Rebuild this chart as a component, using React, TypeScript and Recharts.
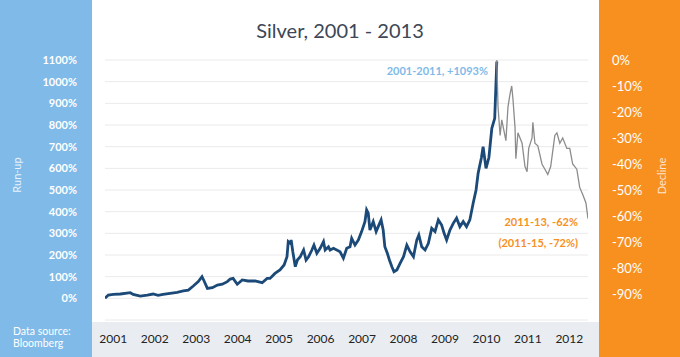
import React from "react"
import { LineChart, Line, XAxis, YAxis, CartesianGrid } from "recharts"

// x positions are in "label years": 2001 sits under the 2001 tick label
const yearTicks = [2001, 2002, 2003, 2004, 2005, 2006, 2007, 2008, 2009, 2010, 2011, 2012]
const runUpTicks = [0, 100, 200, 300, 400, 500, 600, 700, 800, 900, 1000, 1100]
const declineTicks = [-90, -80, -70, -60, -50, -40, -30, -20, -10, 0]

// blue series: run-up vs. the 2001 low, in %
const runUpT = [
  2000.8, 2000.88, 2001.0, 2001.17, 2001.41, 2001.48, 2001.65, 2001.82, 2001.96, 2002.08,
  2002.2, 2002.37, 2002.54, 2002.69, 2002.81, 2002.93, 2003.05, 2003.14, 2003.19, 2003.27,
  2003.39, 2003.51, 2003.63, 2003.75, 2003.82, 2003.89, 2003.99, 2004.11, 2004.25, 2004.42,
  2004.59, 2004.71, 2004.78, 2004.9, 2005.02, 2005.12, 2005.19, 2005.22, 2005.27, 2005.29,
  2005.33, 2005.39, 2005.44, 2005.51, 2005.55, 2005.59, 2005.65, 2005.71, 2005.79, 2005.84,
  2005.91, 2005.99, 2006.07, 2006.11, 2006.19, 2006.23, 2006.31, 2006.39, 2006.47, 2006.55,
  2006.63, 2006.71, 2006.75, 2006.83, 2006.91, 2006.99, 2007.07, 2007.11, 2007.15, 2007.19,
  2007.27, 2007.34, 2007.39, 2007.46, 2007.51, 2007.55, 2007.61, 2007.66, 2007.72, 2007.77,
  2007.84, 2007.92, 2008.0, 2008.08, 2008.16, 2008.24, 2008.32, 2008.37, 2008.44, 2008.52,
  2008.6, 2008.68, 2008.76, 2008.84, 2008.92, 2008.98, 2009.04, 2009.12, 2009.2, 2009.28,
  2009.36, 2009.44, 2009.52, 2009.6, 2009.68, 2009.75, 2009.8, 2009.88, 2009.92, 2009.99,
  2010.06, 2010.13, 2010.2, 2010.25,
]
const runUpPct = [
  0, 15, 18, 20, 26, 18, 10, 15, 20, 14,
  18, 23, 28, 34, 38, 57, 77, 100, 80, 46,
  49, 61, 65, 77, 89, 92, 65, 85, 80, 80,
  72, 92, 92, 115, 131, 154, 192, 262, 254, 269,
  215, 146, 177, 192, 208, 223, 177, 192, 223, 246,
  208, 231, 262, 223, 238, 223, 231, 223, 215, 185,
  231, 238, 277, 246, 269, 308, 354, 408, 393, 315,
  354, 308, 331, 362, 315, 238, 208, 177, 146, 123,
  131, 162, 192, 246, 215, 192, 269, 292, 238, 223,
  254, 323, 308, 362, 338, 300, 269, 315, 346, 370,
  331, 354, 331, 362, 439, 500, 577, 650, 700, 600,
  650, 785, 831, 1093,
]

// grey series: decline from the 2011 peak, in %
const declineT = [
  2010.25, 2010.28, 2010.33, 2010.37, 2010.42, 2010.47, 2010.52, 2010.57, 2010.61, 2010.64,
  2010.69, 2010.71, 2010.76, 2010.86, 2010.93, 2010.98, 2011.02, 2011.1, 2011.12, 2011.17,
  2011.24, 2011.34, 2011.41, 2011.48, 2011.55, 2011.65, 2011.7, 2011.77, 2011.84, 2011.94,
  2012.01, 2012.08, 2012.18, 2012.25, 2012.33, 2012.4, 2012.45,
]
const declinePct = [
  0, -18, -29, -23, -27, -31, -18, -13, -10, -15,
  -26, -38, -28, -32, -41, -43, -34, -30, -24, -32,
  -33, -40, -42, -44, -41, -29, -28, -32, -30, -34,
  -34, -40, -42, -49, -52, -55, -61,
]

const runUpData = runUpT.map((t, i) => ({ t, v: runUpPct[i] }))
const declineData = declineT.map((t, i) => ({ t, v: declinePct[i] }))

const FONT = "Lato, 'Open Sans', sans-serif"

export default function App() {
  return (
    <div style={{ position: "absolute", left: 0, top: 0, width: 680, height: 357, background: "#fff", fontFamily: FONT }}>
      <div style={{ position: "absolute", left: 0, top: 0, width: 92, height: 357, background: "#80bae8" }} />
      <div style={{ position: "absolute", left: 599, top: 0, width: 81, height: 357, background: "#f7901e" }} />
      <div style={{ position: "absolute", left: 92, top: 322, width: 507, height: 35, background: "#e9edf2" }} />

      <div style={{ position: "absolute", left: 0, top: 0 }}>
        <LineChart width={680} height={357} margin={{ top: 60, right: 32, bottom: 0, left: 45 }}>
          <CartesianGrid yAxisId="left" vertical={false} stroke="#eaeaea" />
          <XAxis
            dataKey="t"
            type="number"
            domain={[2000.8, 2012.45]}
            ticks={yearTicks}
            interval={0}
            allowDataOverflow
            tickFormatter={(v) => String(v)}
            axisLine={false}
            tickLine={false}
            tickMargin={8}
            height={37}
            tick={{ fill: "#222", fontSize: 12, fontFamily: FONT }}
          />
          <YAxis
            yAxisId="left"
            domain={[-100, 1100]}
            ticks={runUpTicks}
            interval={0}
            tickFormatter={(v) => `${v}%`}
            width={60}
            axisLine={false}
            tickLine={false}
            tickMargin={22}
            tick={{ fill: "#fff", fontSize: 11, fontWeight: 700, fontFamily: FONT }}
          />
          <YAxis
            yAxisId="right"
            orientation="right"
            domain={[-100, 0]}
            ticks={declineTicks}
            interval={0}
            tickFormatter={(v) => `${v}%`}
            width={60}
            axisLine={false}
            tickLine={false}
            tickMargin={18}
            tick={{ fill: "#fff", fontSize: 13, fontFamily: FONT }}
          />
          <Line
            yAxisId="left"
            data={runUpData}
            dataKey="v"
            type="linear"
            stroke="#1c4a78"
            strokeWidth={2.8}
            dot={false}
            isAnimationActive={false}
          />
          <Line
            yAxisId="right"
            data={declineData}
            dataKey="v"
            type="linear"
            stroke="#8c8c8c"
            strokeWidth={1.3}
            dot={false}
            isAnimationActive={false}
          />
        </LineChart>
      </div>

      <svg width={680} height={357} style={{ position: "absolute", left: 0, top: 0, pointerEvents: "none" }}>
        <text x={340} y={38} textAnchor="middle" fontSize={20} fill="#3d4756" fontFamily={FONT}>
          Silver, 2001 - 2013
        </text>
        <text x={488} y={75} textAnchor="end" fontSize={11} fontWeight={700} fill="#80bae8" fontFamily={FONT}>
          2001-2011, +1093%
        </text>
        <text x={578} y={226} textAnchor="end" fontSize={11} fontWeight={700} fill="#f7901e" fontFamily={FONT}>
          2011-13, -62%
        </text>
        <text x={578} y={247} textAnchor="end" fontSize={11} fontWeight={700} fill="#f7901e" fontFamily={FONT}>
          (2011-15, -72%)
        </text>
        <text x={21} y={175} textAnchor="middle" fontSize={11} fill="rgba(255,255,255,0.85)" fontFamily={FONT} transform="rotate(-90 21 175)">
          Run-up
        </text>
        <text x={666} y={176} textAnchor="middle" fontSize={11} fill="rgba(255,255,255,0.8)" fontFamily={FONT} transform="rotate(-90 666 176)">
          Decline
        </text>
        <text x={13} y={335} fontSize={10.5} fill="#fff" fontFamily={FONT}>
          Data source:
        </text>
        <text x={13} y={347} fontSize={10.5} fill="#fff" fontFamily={FONT}>
          Bloomberg
        </text>
      </svg>
    </div>
  )
}
